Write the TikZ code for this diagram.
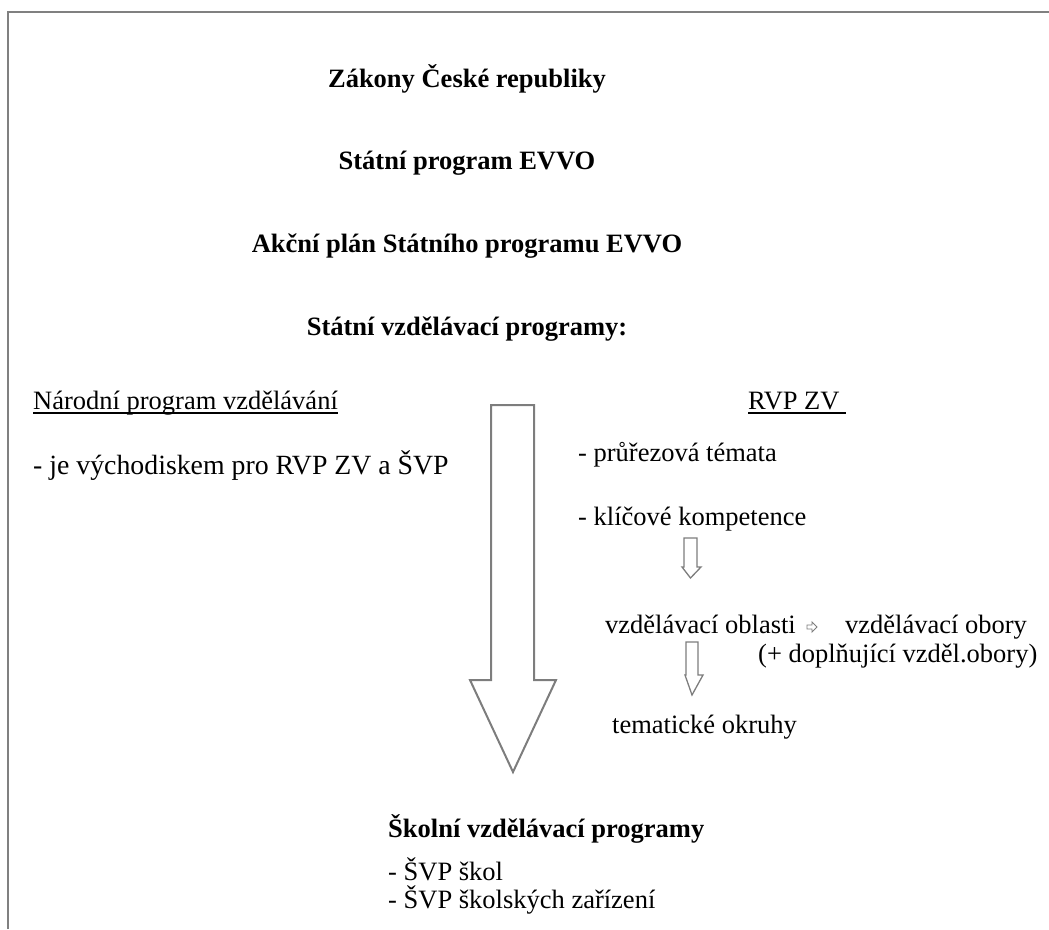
\documentclass[tikz,border=0pt]{standalone}
\usepackage{fontspec}
\setmainfont{Liberation Serif}
\definecolor{framegray}{RGB}{128,128,128}
\definecolor{arrowgray}{RGB}{125,125,125}
\begin{document}
\begin{tikzpicture}[x=1pt,y=-1pt,
  txt/.style={inner sep=0pt, anchor=base west, font=\fontsize{26.5}{30}\selectfont},
  head/.style={inner sep=0pt, anchor=base, font=\fontsize{26.5}{30}\selectfont\bfseries},
  headl/.style={inner sep=0pt, anchor=base west, font=\fontsize{26.5}{30}\selectfont\bfseries},
  frame/.style={draw=framegray, line width=2pt},
  bigarrow/.style={draw=arrowgray, line width=2pt, line join=miter},
  smallarrow/.style={draw=arrowgray, line width=1.3pt, line join=miter},
  uline/.style={draw=black, line width=1.4pt}]
\useasboundingbox (0,0) rectangle (1049,929);
\draw[frame] (8,929) -- (8,12) -- (1049,12);

% headings
\node[head] (zak) at (467,87) {Zákony České republiky};
\node[head] (spe) at (467,169) {Státní program EVVO};
\node[head] (akc) at (467,252) {Akční plán Státního programu EVVO};
\node[head] (svp) at (467,335) {Státní vzdělávací programy:};

% left column
\node[txt] (npv) at (33,409) {Národní program vzdělávání\ };
\draw[uline] ([yshift=-4pt]npv.base west) -- ([yshift=-4pt]npv.base east);
\node[txt, font=\fontsize{27.8}{31}\selectfont] (jev) at (33,474) {- je východiskem pro RVP ZV a ŠVP};

% right column
\node[txt] (rvp) at (748,409) {RVP ZV\ \ };
\draw[uline] ([yshift=-4pt]rvp.base west) -- ([yshift=-4pt]rvp.base east);
\node[txt] (pru) at (578,461) {- průřezová témata};
\node[txt] (kli) at (578,525) {- klíčové kompetence};
\node[txt] (vob) at (605,633) {vzdělávací oblasti};
\node[txt] (vzo) at (845,633) {vzdělávací obory};
\node[txt] (dop) at (758,662) {(+ doplňující vzděl.obory)};
\node[txt] (tem) at (612,733) {tematické okruhy};

% bottom
\node[headl] (skv) at (388,837) {Školní vzdělávací programy};
\node[txt] (sk1) at (388,880) {- ŠVP škol};
\node[txt] (sk2) at (388,908) {- ŠVP školských zařízení};

% big down arrow
\draw[bigarrow] (491,405) -- (534,405) -- (534,680) -- (556,680) -- (513,772) -- (470,680) -- (491,680) -- cycle;

% small down arrows
\draw[smallarrow] (684,538) -- (697,538) -- (697,567) -- (701,567) -- (690.5,578) -- (682,567) -- (684,567) -- cycle;
\draw[smallarrow] (686,642) -- (698,642) -- (698,675) -- (703,675) -- (692,695) -- (685,675) -- (686,675) -- cycle;

% small right arrow
\draw[smallarrow, line width=0.9pt] (807,625) -- (812,625) -- (812,622) -- (817,627) -- (812,632) -- (812,629) -- (807,629) -- cycle;
\end{tikzpicture}
\end{document}
